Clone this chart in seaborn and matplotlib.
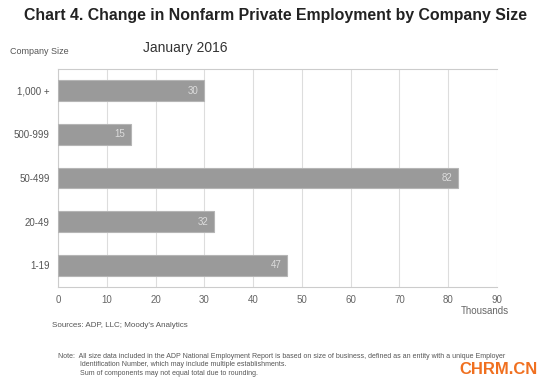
import numpy as np
import pandas as pd
import matplotlib
matplotlib.use('Agg')
import matplotlib.pyplot as plt
import seaborn as sns

# 数据
sizes = ['1,000 +', '500-999', '50-499', '20-49', '1-19']
change = [30, 15, 82, 32, 47]
xticks = [0, 10, 20, 30, 40, 50, 60, 70, 80, 90]

df = pd.DataFrame({'Size': sizes, 'Change': change})

sns.set_style('white')
plt.rcParams['font.family'] = ['Liberation Sans', 'DejaVu Sans']

fig = plt.figure(figsize=(5.5, 3.87), dpi=100)
ax = fig.add_axes([0.1055, 0.258, 0.798, 0.564])

sns.barplot(x='Change', y='Size', data=df, orient='h', color='#9a9a9a',
            width=0.48, edgecolor='#b5b5b5', linewidth=0.8, ax=ax, zorder=3)

for i, v in enumerate(change):
    ax.text(v - 1.2, i, str(v), ha='right', va='center', fontsize=7,
            color='#dcdcdc', zorder=4)

ax.set_xlim(0, 90)
ax.set_ylim(4.5, -0.5)
ax.set_xticks(xticks)
ax.set_xticklabels([str(t) for t in xticks], fontsize=7, color='#666666')
ax.tick_params(axis='y', labelsize=7, labelcolor='#555555', length=0, pad=6)
ax.tick_params(axis='x', length=3, color='#cccccc', pad=3)
ax.set_yticks(np.arange(-0.5, 5, 1), minor=True)
ax.tick_params(axis='y', which='minor', length=3, color='#cccccc')
ax.grid(axis='x', color='#dddddd', linewidth=0.8, zorder=0)
for s in ['left', 'bottom', 'top']:
    ax.spines[s].set_color('#cccccc')
    ax.spines[s].set_linewidth(0.8)
ax.spines['right'].set_visible(False)
ax.set_xlabel('')
ax.set_ylabel('')

fig.text(0.5, 0.960, 'Chart 4. Change in Nonfarm Private Employment by Company Size',
         ha='center', va='center', fontsize=11.4, fontweight='bold', color='#222222')
fig.text(0.018, 0.866, 'Company Size', fontsize=6.5, color='#555555', va='center')
fig.text(0.26, 0.876, 'January 2016', fontsize=10, color='#333333', va='center')
fig.text(0.926, 0.197, 'Thousands', fontsize=7, color='#666666', ha='right', va='center')
fig.text(0.095, 0.158, "Sources: ADP, LLC; Moody's Analytics", fontsize=5.8,
         color='#555555', va='center')
fig.text(0.105, 0.078,
         'Note:  All size data included in the ADP National Employment Report is based on size of business, defined as an entity with a unique Employer',
         fontsize=5.0, color='#555555', va='center')
fig.text(0.146, 0.057, 'Identification Number, which may include multiple establishments.',
         fontsize=5.0, color='#555555', va='center')
fig.text(0.146, 0.036, 'Sum of components may not equal total due to rounding.',
         fontsize=5.0, color='#555555', va='center')
fig.text(0.978, 0.044, 'CHRM.CN', fontsize=12, fontweight='bold', color='#f07020',
         ha='right', va='center')

fig.savefig('out.png', dpi=100)
